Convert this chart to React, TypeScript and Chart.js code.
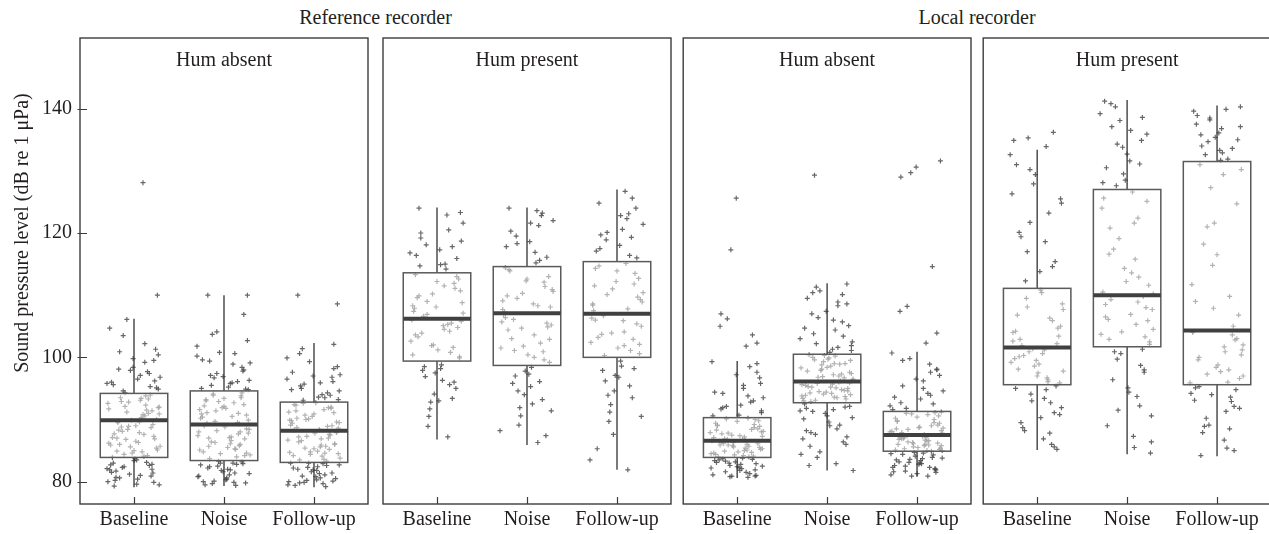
import React, { useEffect, useRef } from 'react';
import { Chart, registerables } from 'chart.js';

Chart.register(...registerables);

// ---------- data ----------
const recorders = ['Reference recorder', 'Local recorder'];
const panelTitles = ['Hum absent', 'Hum present', 'Hum absent', 'Hum present'];
const categories = ['Baseline', 'Noise', 'Follow-up'];
const yTicks = [80, 100, 120, 140];
const yTitle = 'Sound pressure level (dB re 1 \u03bcPa)';

// box statistics, per panel, per category
const whiskerLow = [[79.1, 79.3, 79.1], [86.8, 85.9, 81.9], [80.6, 81.8, 80.8], [85.1, 84.4, 84.1]];
const boxQ1 = [[83.9, 83.4, 83.1], [99.4, 98.7, 100.0], [83.9, 92.7, 84.9], [95.6, 101.7, 95.6]];
const boxMedian = [[89.9, 89.2, 88.2], [106.2, 107.1, 107.0], [86.6, 96.1, 87.5], [101.6, 110.0, 104.3]];
const boxQ3 = [[94.2, 94.6, 92.8], [113.6, 114.6, 115.4], [90.3, 100.5, 91.3], [111.1, 127.0, 131.5]];
const whiskerHigh = [[106.2, 110.0, 102.3], [124.1, 124.1, 127.0], [99.4, 111.9, 100.9], [133.4, 141.4, 140.5]];

// individual recordings (dB)
const refAbsentBaseline = [80.2, 83.1, 79.6, 81.9, 85.4, 91.2, 88.7, 93.5, 96.8, 84.6, 90.3, 87.1, 99.2, 82.4, 79.9, 92.6, 86.3, 94.9, 89.5, 81.2,
  97.4, 85.9, 90.8, 83.7, 88.1, 101.3, 80.7, 93.1, 86.8, 92.0, 95.6, 84.2, 89.9, 82.8, 98.1, 87.6, 91.7, 80.4, 85.1, 103.5,
  93.9, 88.4, 81.5, 90.1, 96.2, 86.0, 83.4, 92.3, 79.3, 89.2, 97.9, 84.9, 91.0, 87.9, 82.1, 100.4, 94.3, 86.5, 80.9, 92.9,
  95.1, 88.9, 83.9, 90.6, 85.7, 99.8, 81.7, 93.4, 87.3, 104.7, 91.5, 84.4, 96.5, 82.6, 89.7, 110.0, 106.1, 128.1,
  80.0, 81.4, 82.3, 83.5, 79.5, 80.6, 82.0, 83.0, 81.0, 82.7, 84.1, 85.6, 86.9, 88.3, 89.6, 90.9, 92.1, 93.3, 87.7, 85.0,
  91.4, 88.8, 84.8, 86.2, 90.0, 92.8, 93.8, 87.0, 89.0, 91.9, 94.6, 95.3, 96.0, 97.1, 98.4, 99.5, 100.9, 102.2, 95.8, 97.7];
const refAbsentNoise = [79.5, 82.8, 80.6, 85.1, 90.7, 88.2, 93.8, 97.1, 84.3, 91.9, 86.6, 99.6, 81.4, 80.1, 92.4, 87.4, 95.2, 89.9, 82.2, 100.8,
  85.8, 90.2, 83.0, 88.8, 103.7, 79.8, 93.2, 86.1, 91.4, 96.3, 84.8, 89.5, 81.8, 98.4, 87.0, 92.7, 80.9, 85.5, 102.7, 94.1,
  88.0, 82.5, 90.9, 95.9, 86.9, 83.7, 92.1, 79.4, 89.0, 97.8, 84.5, 91.1, 87.7, 81.1, 100.2, 94.8, 86.3, 80.3, 93.5, 95.5,
  88.5, 83.3, 90.4, 85.3, 99.1, 81.6, 93.0, 87.2, 106.9, 91.6, 84.0, 96.7, 82.0, 89.3, 110.0, 110.0, 104.1, 98.9, 80.8, 82.9,
  79.7, 80.4, 81.3, 82.4, 83.2, 80.0, 81.9, 82.7, 79.9, 83.0, 84.2, 85.7, 87.1, 88.4, 89.7, 91.0, 92.2, 93.4, 94.3, 86.4,
  90.5, 88.0, 84.6, 92.9, 85.2, 89.4, 91.8, 87.8, 93.9, 86.0, 95.0, 95.8, 96.9, 98.0, 99.4, 100.6, 101.8, 96.1, 97.4, 94.9];
const refAbsentFollowUp = [79.4, 82.6, 80.3, 84.7, 89.6, 87.3, 91.8, 95.4, 83.8, 90.5, 85.9, 97.6, 81.1, 79.9, 91.1, 86.7, 93.6, 88.6, 82.0, 99.3,
  85.2, 89.1, 82.9, 87.8, 101.4, 80.5, 92.3, 85.6, 90.0, 94.6, 84.2, 88.9, 81.6, 96.8, 86.4, 91.6, 80.0, 84.9, 98.5, 92.6,
  87.5, 82.3, 89.8, 94.0, 86.1, 83.5, 90.9, 79.2, 88.3, 96.1, 84.4, 90.2, 87.0, 81.3, 99.9, 93.2, 85.4, 80.8, 92.0, 95.0,
  88.0, 83.0, 89.4, 84.6, 97.2, 81.9, 91.4, 86.9, 102.1, 89.9, 83.3, 95.7, 82.4, 87.6, 110.0, 108.6, 80.2, 79.7,
  79.5, 80.1, 80.9, 81.8, 82.7, 79.8, 81.4, 82.2, 80.6, 83.0, 83.6, 84.8, 86.0, 87.2, 88.4, 89.5, 90.7, 91.9, 92.4, 85.3,
  89.0, 86.6, 84.1, 91.2, 87.9, 90.1, 85.7, 88.7, 92.7, 84.5, 93.1, 93.9, 94.8, 95.9, 97.0, 98.2, 100.6, 93.5, 96.5, 94.3];

const refPresentBaseline = [103.3, 95.6, 117.3, 108.3, 100.1, 91.7, 111.9, 106.6, 121.6, 97.5, 104.5, 113.3, 87.2, 109.0, 115.9, 102.6, 98.8, 105.8, 119.2, 110.2,
  93.4, 107.4, 114.2, 101.2, 96.9, 112.6, 124.0, 105.1, 90.5, 108.8, 116.4, 100.8, 94.1, 111.1, 103.9, 122.9, 106.0, 98.2, 110.7, 118.1,
  101.6, 92.8, 107.9, 115.0, 104.8, 97.9, 112.2, 120.5, 109.6, 95.0, 102.0, 114.7, 105.5, 96.3, 116.8, 118.7,
  88.9, 93.0, 96.0, 98.5, 99.9, 101.9, 103.6, 105.3, 107.1, 108.1, 109.9, 111.5, 113.0, 100.4, 104.2, 106.9, 114.9, 117.8, 120.0, 123.3];
const refPresentNoise = [104.4, 96.1, 118.6, 107.7, 99.2, 91.9, 112.1, 106.1, 122.0, 97.8, 103.6, 114.4, 86.3, 109.5, 116.1, 101.5, 98.4, 105.2, 120.3, 110.3,
  93.2, 106.9, 115.2, 100.4, 97.0, 113.0, 124.0, 108.6, 89.1, 110.9, 117.8, 102.3, 94.0, 111.4, 103.0, 123.6, 105.7, 95.3, 108.1, 119.5,
  100.9, 90.6, 107.3, 116.9, 104.9, 95.8, 112.6, 121.2, 109.9, 87.4, 101.8, 113.9, 122.8, 92.5,
  88.2, 91.4, 94.6, 97.3, 99.6, 101.1, 102.9, 104.7, 106.4, 108.3, 110.6, 112.3, 114.1, 100.0, 105.5, 109.1, 115.6, 118.3, 121.6, 123.2];
const refPresentFollowUp = [103.2, 95.4, 118.0, 108.4, 100.6, 91.2, 111.8, 106.7, 121.4, 97.1, 104.1, 114.3, 81.9, 110.1, 116.0, 102.4, 98.6, 105.0, 119.7, 111.0,
  93.5, 107.5, 115.1, 101.5, 96.2, 112.7, 124.8, 105.9, 89.7, 108.9, 117.1, 101.1, 94.6, 113.5, 103.7, 122.3, 106.3, 99.4, 109.3, 118.9,
  102.9, 92.4, 111.5, 126.7, 109.7, 97.9, 113.9, 123.1, 85.3, 124.0, 87.6, 117.5, 119.3, 120.6,
  83.5, 90.5, 93.9, 96.8, 98.2, 100.3, 102.1, 103.9, 106.0, 107.8, 110.4, 112.2, 114.7, 101.9, 105.4, 108.6, 116.4, 120.1, 122.8, 125.6];

const localAbsentBaseline = [84.0, 81.3, 87.4, 90.6, 85.5, 82.6, 88.7, 86.2, 93.5, 83.2, 85.0, 89.4, 80.7, 86.8, 97.6, 84.5, 82.1, 88.0, 91.7, 85.8,
  83.6, 87.1, 101.8, 84.8, 81.6, 89.8, 86.5, 95.0, 83.0, 85.3, 88.3, 92.8, 84.3, 81.9, 87.7, 86.0, 99.3, 82.8, 85.2, 90.1,
  84.1, 117.3, 83.4, 86.7, 88.5, 94.2, 82.4, 85.7, 89.0, 81.0, 86.3, 105.0, 84.7, 83.8, 87.9, 91.1, 85.9, 82.3, 89.2, 86.9,
  96.7, 80.9, 84.4, 90.2, 88.1, 125.6, 83.5, 87.2, 102.3, 81.1, 98.5, 106.2, 92.3, 103.6, 107.0, 95.8,
  80.8, 81.5, 82.2, 82.9, 83.3, 81.8, 82.5, 83.7, 80.9, 83.1, 84.2, 84.6, 85.1, 85.6, 86.1, 86.4, 86.8, 87.3, 87.8, 88.4,
  89.1, 89.7, 90.0, 84.9, 85.4, 86.6, 88.9, 87.5, 84.0, 85.9, 90.7, 91.4, 92.1, 93.0, 94.4, 95.5, 97.2, 99.0, 91.9, 93.8];
const localAbsentNoise = [95.3, 89.1, 100.8, 93.4, 97.6, 84.8, 94.7, 103.8, 96.5, 91.0, 99.0, 93.9, 108.3, 95.8, 87.2, 98.3, 94.2, 101.9, 92.9, 96.9,
  110.1, 90.1, 95.1, 99.7, 93.1, 105.1, 82.6, 97.2, 94.5, 102.5, 91.8, 96.2, 100.3, 93.7, 107.0, 88.5, 95.6, 98.6, 94.0, 111.3,
  86.4, 97.9, 92.5, 104.4, 95.0, 100.0, 90.6, 96.0, 109.5, 93.3, 99.3, 85.7, 94.8, 101.3, 91.4, 97.4, 106.4, 89.6, 96.7, 129.3,
  92.1, 98.1, 95.5, 108.9, 81.8, 94.4, 100.4, 93.6, 111.8, 86.9, 98.9, 83.9, 95.2, 105.7, 87.9, 99.5, 110.7,
  82.9, 84.4, 86.0, 87.6, 89.0, 90.3, 91.3, 92.0, 88.2, 91.6, 93.0, 93.5, 94.1, 94.6, 95.2, 95.7, 96.3, 96.8, 97.3, 97.8,
  98.4, 99.0, 99.6, 100.2, 93.8, 95.9, 98.8, 97.0, 94.3, 99.9, 101.1, 102.2, 103.4, 104.7, 106.0, 107.4, 108.6, 110.4, 101.6, 103.0];
const localAbsentFollowUp = [86.0, 82.3, 88.8, 91.6, 85.2, 83.6, 89.5, 87.0, 94.6, 84.1, 85.8, 90.2, 80.9, 87.4, 98.0, 84.5, 82.9, 88.2, 92.7, 86.3,
  83.9, 87.7, 102.3, 85.5, 81.7, 90.6, 86.8, 96.2, 83.1, 85.0, 88.5, 93.9, 84.7, 82.0, 87.9, 86.5, 100.7, 83.4, 85.4, 91.0,
  84.3, 129.7, 82.6, 86.7, 89.1, 95.4, 81.3, 85.9, 89.8, 81.5, 86.1, 107.4, 84.9, 83.7, 88.0, 91.2, 86.4, 82.8, 90.0, 87.2,
  97.1, 80.9, 85.1, 90.8, 88.6, 130.6, 83.2, 87.6, 103.9, 82.3, 98.9, 108.2, 93.3, 114.6, 129.0, 131.6, 99.8, 87.1,
  81.1, 81.9, 82.5, 83.0, 83.8, 84.4, 82.1, 83.5, 84.6, 81.6, 85.0, 85.6, 86.2, 86.9, 87.3, 87.8, 88.4, 89.0, 89.7, 90.4,
  91.1, 85.3, 86.0, 88.1, 89.4, 90.9, 86.6, 87.1, 88.7, 85.8, 91.8, 92.5, 93.6, 95.0, 96.5, 98.1, 99.5, 94.2, 92.2, 97.6];

const localPresentBaseline = [98.1, 87.8, 113.8, 102.6, 95.9, 121.7, 91.1, 100.3, 107.7, 129.4, 93.4, 104.2, 96.4, 117.0, 85.2, 99.2, 110.4, 124.8, 89.5, 101.4,
  105.9, 134.9, 94.8, 97.5, 112.3, 103.4, 120.1, 86.9, 100.9, 108.6, 131.0, 92.7, 98.6, 115.4, 101.9, 96.7, 126.3, 90.3, 105.0, 109.5,
  136.2, 94.1, 99.8, 118.6, 104.7, 88.7, 97.0, 123.2, 106.8, 95.4, 127.9, 102.9, 86.0, 100.6, 132.6, 91.9, 135.3, 98.9,
  85.6, 88.2, 90.8, 93.0, 95.0, 96.1, 97.8, 99.5, 100.1, 101.2, 102.2, 104.0, 106.3, 108.1, 110.8, 114.6, 119.4, 125.5, 130.2, 133.9];
const localPresentNoise = [106.1, 92.2, 131.6, 110.5, 102.1, 138.1, 97.6, 117.4, 104.5, 128.5, 85.5, 108.5, 122.4, 99.7, 135.9, 103.7, 113.6, 90.6, 109.3, 133.8,
  101.3, 125.6, 105.3, 95.1, 140.3, 111.6, 102.9, 87.3, 119.1, 107.7, 130.5, 98.7, 114.3, 103.3, 137.1, 93.7, 124.0, 106.9, 84.6, 127.6,
  109.8, 100.6, 141.2, 115.8, 105.9, 96.4, 132.7, 112.9, 89.0, 108.0, 129.5, 120.8, 134.9, 126.6, 139.2,
  86.4, 91.5, 94.4, 98.0, 100.9, 102.5, 104.1, 106.5, 108.9, 110.2, 112.2, 116.6, 121.6, 125.1, 128.1, 131.1, 134.3, 136.5, 138.6, 140.8];
const localPresentFollowUp = [99.6, 88.5, 133.3, 104.1, 96.6, 138.2, 92.1, 118.2, 102.0, 135.4, 86.7, 109.0, 131.9, 97.3, 124.7, 94.2, 136.8, 100.4, 84.2, 114.8,
  103.6, 139.6, 91.3, 98.8, 132.6, 106.8, 95.3, 129.4, 89.1, 101.2, 137.5, 93.6, 121.6, 102.8, 134.0, 85.4, 111.7, 97.7, 140.3, 90.2,
  105.0, 127.3, 93.1, 100.9, 135.0, 87.9, 116.5, 98.0, 138.9, 94.8, 107.9, 131.0, 92.9, 132.9, 95.9, 130.2, 134.7, 136.1,
  85.0, 88.9, 91.8, 94.0, 95.1, 96.0, 97.0, 98.4, 100.0, 101.7, 103.0, 104.0, 109.8, 121.0, 131.7, 133.6, 135.8, 137.1, 138.5, 139.9];

// horizontal jitter (category units) used for the point cloud
const jitter = [-0.21, 0.14, 0.03, -0.27, 0.25, -0.08, 0.19, -0.15, 0.29, -0.02, 0.08, -0.24, 0.12, -0.11, 0.22, -0.29, 0.05, 0.27, -0.18, -0.05,
  0.17, -0.26, 0.1, 0.01, -0.13, 0.24, -0.2, 0.07, -0.09, 0.28, -0.23, 0.15, -0.03, 0.2, -0.17, 0.11, -0.28, 0.04, 0.26, -0.12,
  0.18, -0.07, -0.25, 0.09, 0.23, -0.16, 0.0, 0.13, -0.22, 0.21, -0.04, -0.19, 0.16, 0.06, -0.3, 0.27, -0.1, 0.02, 0.19, -0.14,
  0.25, -0.06, -0.24, 0.12, 0.29, -0.01, -0.2, 0.08, 0.22, -0.27, 0.14, -0.11, 0.04, 0.17, -0.18, 0.26, -0.08, 0.1, -0.29, 0.21,
  -0.13, 0.03, 0.28, -0.16, 0.2, -0.23, 0.07, -0.26, 0.11, -0.04, 0.23, -0.17, 0.06, 0.28, -0.1, 0.16, -0.22, 0.0, 0.2, -0.14,
  0.09, -0.28, 0.25, -0.06, 0.13, -0.19, 0.02, 0.27, -0.12, 0.18, -0.25, 0.07, -0.01, 0.22, -0.16, 0.12, -0.3, 0.15, -0.08, 0.24];

const panelPoints = [
  [refAbsentBaseline, refAbsentNoise, refAbsentFollowUp],
  [refPresentBaseline, refPresentNoise, refPresentFollowUp],
  [localAbsentBaseline, localAbsentNoise, localAbsentFollowUp],
  [localPresentBaseline, localPresentNoise, localPresentFollowUp],
];

// ---------- layout / style ----------
const FONT = "'Liberation Serif', 'Times New Roman', serif";
const TEXT = '#231f20';
const Y_MIN = 76.41;
const Y_MAX = 151.37;
const BOX_HALF = 0.375;
const canvasLayout = [
  { left: 0, width: 376, padL: 0, padR: 8 },
  { left: 376, width: 302, padL: 7, padR: 7 },
  { left: 678, width: 300, padL: 5, padR: 7 },
  { left: 978, width: 302, padL: 5, padR: 9 },
];

function makePlugin(p: number) {
  return {
    id: 'panelDecor' + p,
    afterDatasetsDraw(chart: any) {
      const { ctx, chartArea: a, scales } = chart;
      const x = scales.x;
      const y = scales.y;
      ctx.save();
      for (let c = 0; c < categories.length; c++) {
        const cx = x.getPixelForValue(c + 1);
        const xl = x.getPixelForValue(c + 1 - BOX_HALF);
        const xr = x.getPixelForValue(c + 1 + BOX_HALF);
        const yLo = y.getPixelForValue(whiskerLow[p][c]);
        const yQ1 = y.getPixelForValue(boxQ1[p][c]);
        const yMed = y.getPixelForValue(boxMedian[p][c]);
        const yQ3 = y.getPixelForValue(boxQ3[p][c]);
        const yHi = y.getPixelForValue(whiskerHigh[p][c]);
        // whiskers
        ctx.strokeStyle = '#333333';
        ctx.lineWidth = 1.3;
        ctx.beginPath();
        ctx.moveTo(cx, yLo);
        ctx.lineTo(cx, yQ1);
        ctx.moveTo(cx, yQ3);
        ctx.lineTo(cx, yHi);
        ctx.stroke();
        // box
        ctx.fillStyle = 'rgba(255,255,255,0.5)';
        ctx.fillRect(xl, yQ3, xr - xl, yQ1 - yQ3);
        ctx.strokeStyle = '#5a5a5a';
        ctx.lineWidth = 1.5;
        ctx.strokeRect(xl, yQ3, xr - xl, yQ1 - yQ3);
        // median
        ctx.strokeStyle = '#404040';
        ctx.lineWidth = 4;
        ctx.beginPath();
        ctx.moveTo(xl, yMed);
        ctx.lineTo(xr, yMed);
        ctx.stroke();
      }
      // frame
      ctx.strokeStyle = '#3c3c3c';
      ctx.lineWidth = 1.4;
      ctx.strokeRect(a.left, a.top, a.right - a.left, a.bottom - a.top);
      // x tick marks (inward)
      ctx.lineWidth = 1.2;
      ctx.beginPath();
      for (let c = 0; c < categories.length; c++) {
        const tx = Math.round(x.getPixelForValue(c + 1)) + 0.5;
        ctx.moveTo(tx, a.bottom - 7);
        ctx.lineTo(tx, a.bottom);
      }
      // y tick marks
      if (p === 0) {
        for (const v of yTicks) {
          const ty = Math.round(y.getPixelForValue(v)) + 0.5;
          ctx.moveTo(a.left - 2.5, ty);
          ctx.lineTo(a.left + 7, ty);
        }
      }
      ctx.stroke();
      // panel title
      ctx.fillStyle = TEXT;
      ctx.font = `20px ${FONT}`;
      ctx.textAlign = 'center';
      ctx.textBaseline = 'alphabetic';
      ctx.fillText(panelTitles[p], (a.left + a.right) / 2, a.top + 28);
      // y axis title
      if (p === 0) {
        ctx.save();
        ctx.translate(28, 233);
        ctx.rotate(-Math.PI / 2);
        ctx.fillText(yTitle, 0, 0);
        ctx.restore();
      }
      ctx.restore();
    },
  };
}

function makeConfig(p: number): any {
  const L = canvasLayout[p];
  const points: { x: number; y: number }[] = [];
  panelPoints[p].forEach((vals, c) => {
    vals.forEach((v, i) => points.push({ x: c + 1 + jitter[i % jitter.length], y: v }));
  });
  return {
    type: 'scatter',
    data: {
      datasets: [
        {
          data: points,
          pointStyle: 'cross',
          pointRadius: 2.5,
          pointBorderWidth: 1.2,
          borderColor: 'rgba(70,70,70,0.82)',
          backgroundColor: 'rgba(70,70,70,0.82)',
        },
      ],
    },
    options: {
      responsive: false,
      animation: false,
      events: [],
      layout: { padding: { left: L.padL, right: L.padR, top: 38, bottom: 0 } },
      plugins: { legend: { display: false }, tooltip: { enabled: false }, title: { display: false } },
      scales: {
        x: {
          type: 'linear',
          min: 0.4,
          max: 3.6,
          grid: { display: false, drawTicks: false },
          border: { display: false },
          afterBuildTicks: (s: any) => {
            s.ticks = categories.map((_, i) => ({ value: i + 1 }));
          },
          afterFit: (s: any) => {
            s.height = 30;
          },
          ticks: {
            autoSkip: false,
            maxRotation: 0,
            padding: 4,
            color: TEXT,
            font: { family: FONT, size: 20 },
            callback: (_v: any, i: number) => categories[i],
          },
        },
        y: {
          type: 'linear',
          display: p === 0,
          min: Y_MIN,
          max: Y_MAX,
          grid: { display: false, drawTicks: false },
          border: { display: false },
          afterBuildTicks: (s: any) => {
            s.ticks = yTicks.map((v) => ({ value: v }));
          },
          afterFit: (s: any) => {
            s.width = p === 0 ? 80 : 0;
          },
          ticks: {
            padding: 8,
            color: TEXT,
            font: { family: FONT, size: 20 },
            callback: (v: any) => String(v),
          },
        },
      },
    },
    plugins: [makePlugin(p)],
  };
}

export default function App() {
  const canvases = useRef<(HTMLCanvasElement | null)[]>([]);
  useEffect(() => {
    const charts = canvasLayout.map((_, p) => new Chart(canvases.current[p] as HTMLCanvasElement, makeConfig(p)));
    return () => charts.forEach((c) => c.destroy());
  }, []);

  const headerStyle: React.CSSProperties = {
    position: 'absolute',
    top: 7,
    textAlign: 'center',
    fontFamily: FONT,
    fontSize: 20,
    lineHeight: '20px',
    color: TEXT,
    whiteSpace: 'nowrap',
  };

  return (
    <div style={{ position: 'absolute', left: 0, top: 0, width: 1269, height: 534, overflow: 'hidden', background: '#fff' }}>
      <div style={{ ...headerStyle, left: 0, width: 751 }}>{recorders[0]}</div>
      <div style={{ ...headerStyle, left: 683, width: 588 }}>{recorders[1]}</div>
      {canvasLayout.map((L, p) => (
        <canvas
          key={p}
          ref={(el) => {
            canvases.current[p] = el;
          }}
          width={L.width}
          height={534}
          style={{ position: 'absolute', left: L.left, top: 0, width: L.width, height: 534 }}
        />
      ))}
    </div>
  );
}
